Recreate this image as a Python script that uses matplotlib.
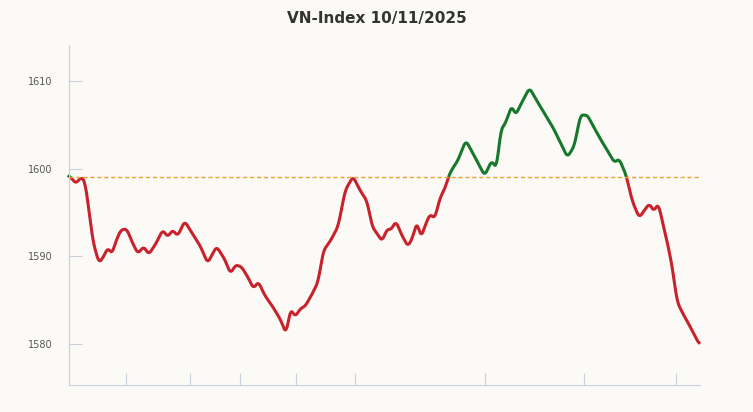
import matplotlib
matplotlib.use("Agg")
import matplotlib.pyplot as plt
from matplotlib.patches import Rectangle
import numpy as np

px = [68,75,80,84,88,92,98,103,107,111,115,120,126,131,137,143,148,155,162,167,172,177,184,190,200,207,216,224,230,235,241,248,253,258,264,272,280,286,290,295,300,305,312,318,323,330,338,345,353,360,367,372,378,382,387,391,396,401,408,413,417,421,425,430,435,440,445,450,458,466,472,478,485,492,497,501,506,512,516,522,530,537,545,553,560,568,575,581,588,595,602,610,615,620,627,633,640,645,650,655,659,662,668,673,678,684,690,700]
values = [1599.2,1598.3,1599,1598.6,1595.2,1591.7,1589.2,1590,1591,1590.2,1591.7,1593,1593.1,1591.7,1590.3,1591.1,1590.2,1591.4,1593,1592.2,1593,1592.3,1594,1592.9,1591.1,1589.2,1591.1,1589.7,1588,1589,1588.8,1587.5,1586.3,1587.1,1585.6,1584.3,1582.8,1581.1,1584,1583.1,1584,1584.3,1585.7,1587.1,1590.6,1591.7,1593.4,1597.5,1599.1,1597.5,1596.3,1593.4,1592.4,1591.7,1593.1,1593,1594,1592.6,1591.1,1592.2,1594,1592.1,1593.4,1594.8,1594.3,1596.6,1597.7,1599.5,1600.9,1603.2,1602,1600.7,1599.2,1600.9,1600,1604.4,1605.2,1607.2,1606.1,1607.5,1609.2,1607.8,1606.3,1604.8,1603.2,1601.3,1602.6,1606.1,1606.1,1604.6,1603.2,1601.7,1600.7,1601.1,1599.2,1596.3,1594.4,1595.2,1596,1595.1,1596.1,1594.6,1591.7,1588.9,1584.8,1583.4,1582.2,1580]
ref = 1599
xtick_px = [125,189,240,296,355,485,585,677]

t = np.array(px, float)
v = np.array(values)
tt = np.linspace(t[0], t[-1], 1200)
vv = np.interp(tt, t, v)
k = 9
pad = np.pad(vv, k//2, mode='edge')
vv = np.convolve(pad, np.ones(k)/k, mode='valid')

bg = '#fbfaf7'
fig = plt.figure(figsize=(7.53,4.12), dpi=100, facecolor=bg)
ax = fig.add_axes([69/753, 1-385/412, (700-69)/753, (385-45)/412], facecolor=bg)
ax.set_xlim(t[0], t[-1]+1)
ax.set_ylim(1575.3, 1614.1)
l1, = ax.plot(tt, vv, color='#c8222c', lw=2.2)
l2, = ax.plot(tt, vv, color='#17782c', lw=2.2)
l1.set_clip_path(Rectangle((0,1500),2000,ref-1500, transform=ax.transData))
l2.set_clip_path(Rectangle((0,ref),2000,200, transform=ax.transData))
ax.axhline(ref, color='#eea030', lw=1, ls=(0,(3,2)))
for s in ['top','right']:
    ax.spines[s].set_visible(False)
for s in ['left','bottom']:
    ax.spines[s].set_color('#c8d0dc')
ax.set_yticks([1580,1590,1600,1610])
ax.set_xticks(xtick_px)
ax.set_xticklabels([])
ax.tick_params(axis='both', direction='in', color='#c8d0dc', length=9, labelsize=7, labelcolor='#555555')
ax.tick_params(axis='y', pad=12)
fig.text(0.5, 1-18/412, 'VN-Index 10/11/2025', ha='center', va='center', fontsize=11, fontweight='bold', color='#333333')
fig.savefig('out.png', dpi=100, facecolor=bg)
